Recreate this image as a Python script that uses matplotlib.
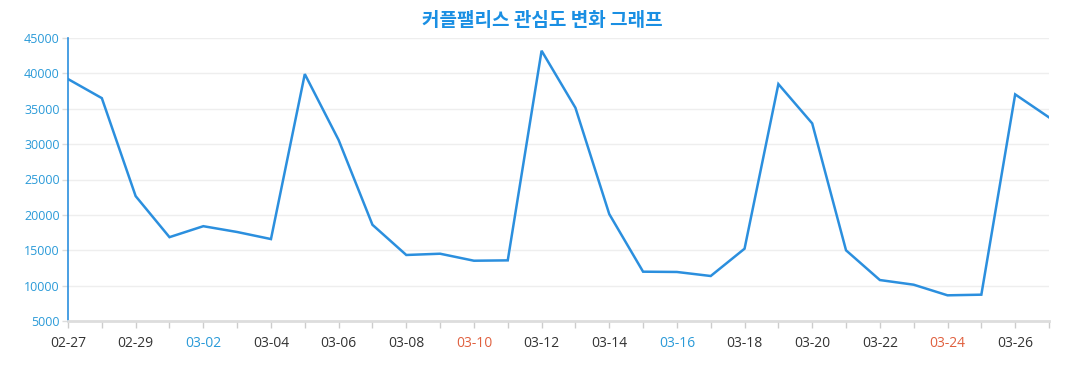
import numpy as np
import matplotlib.pyplot as plt

# daily interest values, 02-27 .. 03-27
dates = ["02-27", "02-28", "02-29", "03-01", "03-02", "03-03", "03-04", "03-05",
         "03-06", "03-07", "03-08", "03-09", "03-10", "03-11", "03-12", "03-13",
         "03-14", "03-15", "03-16", "03-17", "03-18", "03-19", "03-20", "03-21",
         "03-22", "03-23", "03-24", "03-25", "03-26", "03-27"]
values = [39200, 36500, 22650, 16850, 18400, 17580, 16580, 39900,
          30580, 18600, 14330, 14510, 13520, 13570, 43200, 35140,
          20120, 11970, 11930, 11360, 15220, 38490, 32930, 14990,
          10790, 10130, 8630, 8720, 37030, 33780]
y_ticks = [5000, 10000, 15000, 20000, 25000, 30000, 35000, 40000, 45000]
blue_dates = ["03-02", "03-16"]
red_dates = ["03-10", "03-24"]

plt.rcParams["font.family"] = ["Open Sans", "Noto Sans CJK KR", "DejaVu Sans"]

fig = plt.figure(figsize=(10.77, 3.9), dpi=100)
ax = fig.add_axes([68 / 1077, 69 / 390, 981 / 1077, 283 / 390])

x = np.arange(len(dates))
ax.plot(x, values, color="#2b8fde", linewidth=1.8, solid_joinstyle="miter")

ax.set_xlim(0, len(dates) - 1)
ax.set_ylim(5000, 45000)
ax.set_yticks(y_ticks)
ax.set_yticklabels([str(v) for v in y_ticks], color="#2a9ad8", fontsize=9)
ax.grid(axis="y", color="#eeeeee", linewidth=1)
ax.set_axisbelow(True)

ax.set_xticks(x)
labels = [d if i % 2 == 0 else "" for i, d in enumerate(dates)]
ax.set_xticklabels(labels, fontsize=10, color="#333333")
for lab, d in zip(ax.get_xticklabels(), dates):
    if d in blue_dates:
        lab.set_color("#2a9ad8")
    elif d in red_dates:
        lab.set_color("#e0603f")

ax.tick_params(axis="x", length=5, color="#cccccc", width=1, pad=6)
ax.tick_params(axis="y", length=4, color="#dddddd", width=1, pad=2)

for s in ["top", "right"]:
    ax.spines[s].set_visible(False)
ax.spines["left"].set_color("#2b8fde")
ax.spines["left"].set_linewidth(1.2)
ax.spines["bottom"].set_color("#dddddd")
ax.spines["bottom"].set_linewidth(2)

fig.text(542 / 1077, 1 - 20 / 390, "커플팰리스 관심도 변화 그래프", ha="center", va="center",
         fontsize=13.7, fontweight="bold", color="#1a8fe3",
         family=["Noto Sans CJK KR", "DejaVu Sans"])

fig.savefig("out.png", dpi=100)
